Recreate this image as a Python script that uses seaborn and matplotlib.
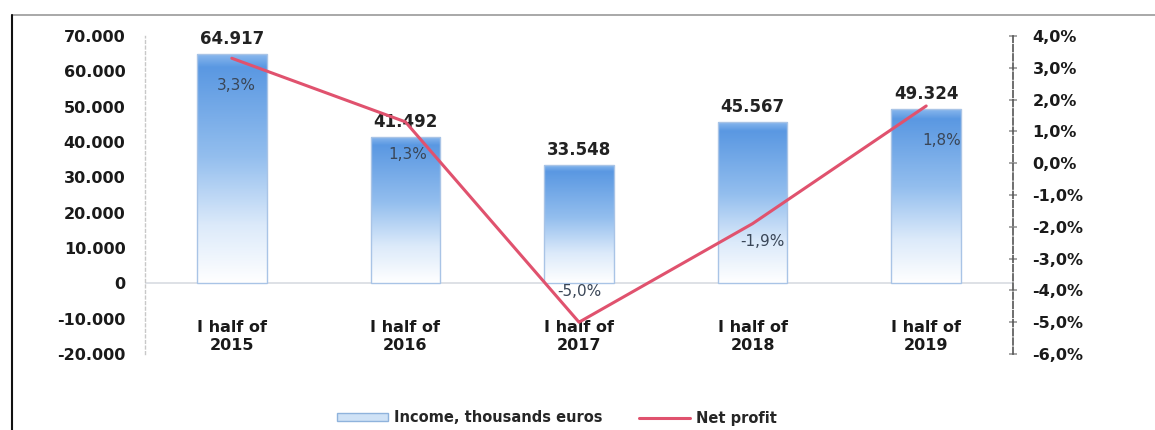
import numpy as np
import pandas as pd
import matplotlib
matplotlib.use("Agg")
import matplotlib.pyplot as plt
import seaborn as sns
from matplotlib.colors import LinearSegmentedColormap
from matplotlib.lines import Line2D
from matplotlib.patches import Patch

# ---- data ----
categories = ["I half of\n2015", "I half of\n2016", "I half of\n2017", "I half of\n2018", "I half of\n2019"]
income = [64917, 41492, 33548, 45567, 49324]          # thousands euros
net_profit = [3.3, 1.3, -5.0, -1.9, 1.8]              # percent
left_ticks = [-20000, -10000, 0, 10000, 20000, 30000, 40000, 50000, 60000, 70000]
right_ticks = [-6, -5, -4, -3, -2, -1, 0, 1, 2, 3, 4]

# label offsets (pixels) for percent labels
pct_offsets = [(5, -27), (2, -33), (0, 31), (10, -18), (15, -35)]

sns.set_theme(style="white")
plt.rcParams['font.family'] = ['DejaVu Sans']

fig = plt.figure(figsize=(11.55, 4.3), dpi=100)
ax = fig.add_axes([145/1155, 1-354/430, (1013-145)/1155, (354-36)/430])

df = pd.DataFrame({"cat": categories, "income": income, "x": np.arange(len(categories)), "profit": net_profit})

sns.barplot(data=df, x="cat", y="income", ax=ax, width=0.4, color="#6FA6E6", saturation=1, zorder=2)

ax.set_xlim(-0.5, len(categories) - 0.5)
ax.set_ylim(-20000, 70000)

cmap = LinearSegmentedColormap.from_list("g", [(0, "#FFFFFF"), (0.25, "#DCEAFA"), (0.55, "#93BEEE"),
                                               (0.94, "#5A98E2"), (1.0, "#8DBAEE")])
grad = np.linspace(0, 1, 256).reshape(-1, 1)
for p in list(ax.patches):
    x0, y0 = p.get_x(), p.get_y()
    w, h = p.get_width(), p.get_height()
    im = ax.imshow(grad, extent=[x0, x0 + w, y0, y0 + h], origin="lower", aspect="auto",
                   cmap=cmap, zorder=2, interpolation="bilinear")
    im.set_clip_path(p)
    p.set_facecolor("none")
    p.set_edgecolor("#A9C4E6")
    p.set_linewidth(1.0)
    p.set_zorder(3)

ax.set_xlim(-0.5, len(categories) - 0.5)
ax.set_ylim(-20000, 70000)

# baseline
ax.axhline(0, color="#D8DCE2", lw=1.2, zorder=1)

# value labels
for i, v in enumerate(income):
    ax.annotate(f"{v:,}".replace(",", "."), (i, v), xytext=(0, 6), textcoords="offset pixels",
                ha="center", va="bottom", fontsize=12, fontweight="bold", color="#222222", zorder=6)

# category labels inside axes
for i, c in enumerate(categories):
    ax.text(i, -15000, c, ha="center", va="center", fontsize=11.5, fontweight="bold",
            color="#1a1a1a", linespacing=1.25)

ax.set_xticks([])
ax.set_xlabel("")
ax.set_ylabel("")
ax.set_yticks(left_ticks)
ax.set_yticklabels([f"{t:,}".replace(",", ".") for t in left_ticks], fontsize=11.5, fontweight="bold", color="#1a1a1a")
ax.tick_params(axis="y", length=0, pad=14)

for s in ["top", "bottom", "right"]:
    ax.spines[s].set_visible(False)
ax.spines["left"].set_color("#C8C8C8")
ax.spines["left"].set_linestyle((0, (2, 2)))
ax.spines["left"].set_linewidth(1)

# secondary axis
ax2 = ax.twinx()
sns.lineplot(data=df, x="x", y="profit", ax=ax2, color="#E0526E", lw=2.2, zorder=5)
ax2.set_ylim(-6, 4)
ax2.set_xlim(-0.5, len(categories) - 0.5)
ax2.set_yticks(right_ticks)
ax2.set_yticklabels([f"{t:.1f}%".replace(".", ",") for t in right_ticks], fontsize=11.5, fontweight="bold", color="#1a1a1a")
ax2.tick_params(axis="y", length=6, pad=11, color="#9A9A9A", direction="inout")
ax2.set_ylabel("")
ax2.set_xlabel("")
for s in ["top", "bottom", "left"]:
    ax2.spines[s].set_visible(False)
ax2.spines["right"].set_color("#555555")
ax2.spines["right"].set_linestyle((0, (4, 1.5)))
ax2.spines["right"].set_linewidth(1.2)

for i, (v, off) in enumerate(zip(net_profit, pct_offsets)):
    ax2.annotate(f"{v:.1f}%".replace(".", ","), (i, v), xytext=off, textcoords="offset pixels",
                 ha="center", va="center", fontsize=11, color="#3A4657", zorder=7)

# legend
handles = [Patch(facecolor="#CFE2F6", edgecolor="#8FB3DC", label="Income, thousands euros"),
           Line2D([0], [0], color="#E0526E", lw=2.2, label="Net profit")]
fig.legend(handles=handles, loc="center", bbox_to_anchor=(557/1155, 1-418/430), ncol=2,
           frameon=False, prop={"size": 10.5, "weight": "bold"}, handlelength=3.5, handleheight=0.5,
           columnspacing=2.5, handletextpad=0.4)

# frame lines
fig.add_artist(Line2D([12/1155, 1], [1-15/430, 1-15/430], color="#9A9A9A", lw=1.2, transform=fig.transFigure))
fig.add_artist(Line2D([12/1155, 12/1155], [0, 1-15/430], color="#111111", lw=1.5, transform=fig.transFigure))

fig.savefig("out.png", dpi=100, facecolor="white")
